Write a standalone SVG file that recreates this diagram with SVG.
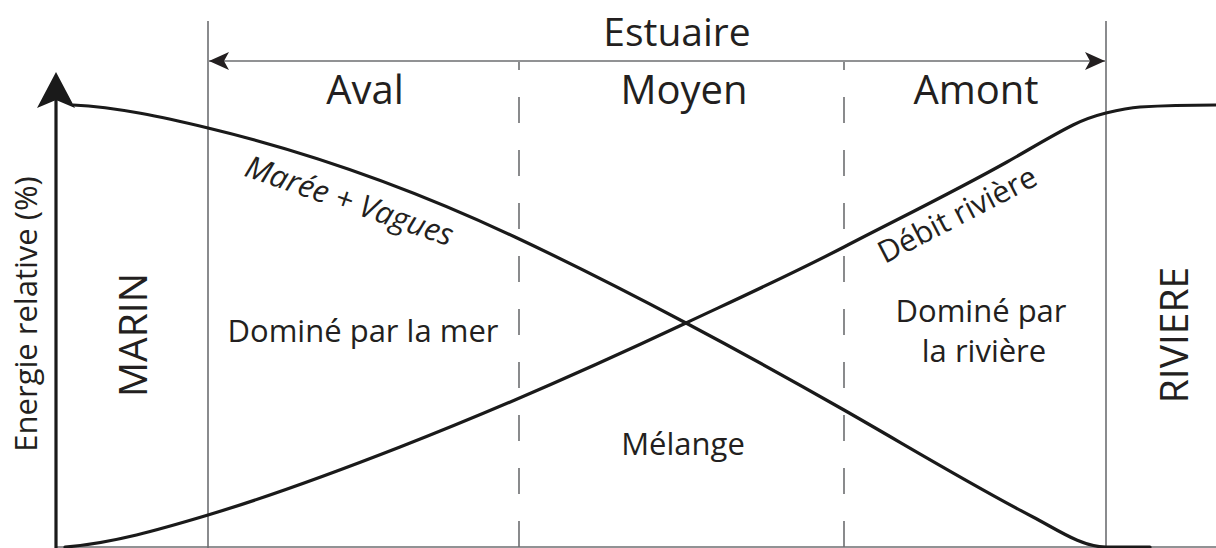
<svg xmlns="http://www.w3.org/2000/svg" width="1216" height="548" viewBox="0 0 1216 548">
  <style>
    .t { font-family: "Open Sans", "Noto Sans", "Liberation Sans", sans-serif; fill: #231f20; }
    .big { font-size: 40px; }
    .mid { font-size: 31px; }
    .thin { stroke: #6d6e71; stroke-width: 1.6; fill: none; }
    .dash { stroke: #6d6e71; stroke-width: 1.6; fill: none; stroke-dasharray: 26 27; }
    .curve { stroke: #1a1a1a; stroke-width: 3.2; fill: none; stroke-linecap: round; }
  </style>
  <defs>
    <marker id="ah" viewBox="0 0 20 18" refX="20" refY="9" markerWidth="20" markerHeight="18" markerUnits="userSpaceOnUse" orient="auto-start-reverse">
      <path d="M0,0 L20,9 L0,18 L5,9 Z" fill="#231f20"/>
    </marker>
  </defs>
  <rect width="1216" height="548" fill="#ffffff"/>

  <g id="frame">
    <line class="thin" x1="56" y1="547" x2="1216" y2="547"/>
    <line class="thin" x1="208" y1="21" x2="208" y2="548"/>
    <line class="thin" x1="1106" y1="21" x2="1106" y2="548"/>
    <line class="dash" x1="519" y1="62" x2="519" y2="548" stroke-dashoffset="18"/>
    <line class="dash" x1="844" y1="62" x2="844" y2="548" stroke-dashoffset="18"/>
  </g>

  <g id="y-axis">
    <line x1="56" y1="548" x2="56" y2="100" stroke="#1a1a1a" stroke-width="3.2"/>
    <path d="M56,72 L75,108 L56,100 L37,108 Z" fill="#1a1a1a"/>
  </g>

  <g id="connectors">
    <line class="thin" x1="209" y1="61" x2="1105" y2="61" marker-start="url(#ah)" marker-end="url(#ah)"/>
    <path id="maree" class="curve" d="M73,105 C118,107.25 163,117.2 208,128 C310.33,152.56 412.67,188.9 515,237 C572,263.79 629,292.79 686,323 C738.67,350.91 791.33,379.98 844,410 C907,445.91 970,484.24 1033,517 C1057.33,529.65 1081.67,547 1106,547 L1150,547"/>
    <path id="debit" class="curve" d="M65,547 C112.67,543.19 160.33,529.3 208,515 C272,495.8 336,471.96 400,447 C495.33,409.82 590.67,367.81 686,323 C738.67,298.25 791.33,274.39 844,247 C898.33,218.75 952.67,192.43 1007,162 C1029,149.68 1051,136 1073,125 C1084,119.5 1095,115.75 1106,113 C1117.33,110.17 1128.67,107.68 1140,107 C1165.33,105.48 1190.67,105 1216,105"/>
  </g>

  <g id="estuaire">
    <text class="t" x="677" y="46" font-size="39" text-anchor="middle">Estuaire</text>
  </g>
  <g id="aval">
    <text class="t big" x="365" y="104" text-anchor="middle">Aval</text>
  </g>
  <g id="moyen">
    <text class="t big" x="684" y="104" text-anchor="middle">Moyen</text>
  </g>
  <g id="amont">
    <text class="t big" x="976" y="104" text-anchor="middle">Amont</text>
  </g>

  <g id="label-maree">
    <text class="t" font-size="31" font-style="italic" text-anchor="middle" transform="translate(346,211) rotate(19)">Marée + Vagues</text>
  </g>
  <g id="label-debit">
    <text class="t" font-size="30.5" text-anchor="middle" transform="translate(962,224) rotate(-27.4)">Débit rivière</text>
  </g>

  <g id="domine-mer">
    <text class="t mid" x="363" y="342" text-anchor="middle">Dominé par la mer</text>
  </g>
  <g id="domine-riviere">
    <text class="t mid" x="981" y="322" text-anchor="middle">Dominé par</text>
    <text class="t mid" x="984" y="362" text-anchor="middle">la rivière</text>
  </g>
  <g id="melange">
    <text class="t mid" x="683" y="455" text-anchor="middle">Mélange</text>
  </g>

  <g id="marin">
    <text class="t" font-size="39" text-anchor="middle" transform="translate(147,335) rotate(-90)">MARIN</text>
  </g>
  <g id="riviere">
    <text class="t" font-size="39" text-anchor="middle" transform="translate(1188,335) rotate(-90)">RIVIERE</text>
  </g>
  <g id="y-label">
    <text class="t" font-size="31" text-anchor="middle" transform="translate(37,314) rotate(-90)">Energie relative (%)</text>
  </g>
</svg>
